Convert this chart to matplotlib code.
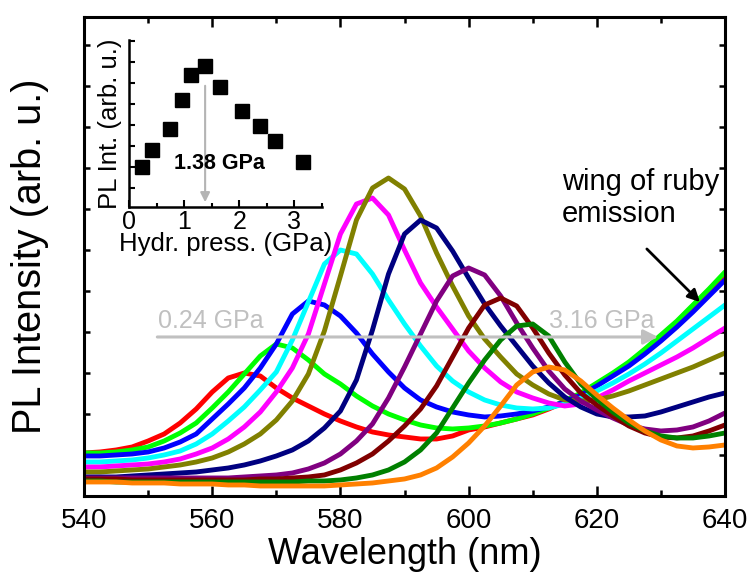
import numpy as np
import matplotlib
matplotlib.use('Agg')
import matplotlib.pyplot as plt
from matplotlib.ticker import MultipleLocator

plt.rcParams['font.family'] = ['Liberation Sans', 'DejaVu Sans']

# wavelength grid (nm), 2.5 nm step
wl = np.arange(540, 640.1, 2.5)

# PL spectra (arb. u.), low -> high pressure
red = [43, 44, 46, 49, 55, 62, 73, 87, 104, 118, 123, 120, 108, 98, 90, 82, 75, 69, 64, 61, 59,
       57, 57, 60, 66, 69, 73, 77, 81, 87, 94, 102, 112, 122, 133, 146, 160, 174, 190, 206, 222]
green = [43, 43, 44, 46, 49, 55, 63, 73, 88, 104, 122, 140, 152, 148, 136, 122, 112, 100, 90, 82, 76,
         71, 68, 67, 68, 70, 73, 77, 82, 88, 95, 103, 113, 123, 134, 147, 161, 175, 191, 207, 224]
blue = [40, 40, 41, 42, 44, 48, 54, 62, 77, 92, 108, 128, 152, 182, 195, 191, 180, 163, 142, 124, 108,
        96, 89, 84, 81, 79, 80, 82, 85, 89, 94, 101, 110, 120, 130, 142, 155, 169, 184, 200, 216]
cyan = [34, 34, 35, 36, 38, 41, 45, 52, 62, 75, 89, 106, 124, 156, 194, 232, 246, 242, 222, 196, 172,
        150, 130, 115, 104, 96, 91, 88, 87, 88, 92, 98, 105, 113, 122, 132, 143, 155, 167, 179, 191]
magenta = [29, 29, 30, 31, 32, 34, 37, 42, 48, 57, 69, 84, 104, 128, 162, 212, 262, 292, 298, 281, 246,
           213, 189, 167, 145, 128, 114, 104, 98, 93, 90, 92, 98, 106, 115, 123, 131, 139, 148, 158, 168]
olive = [24, 24, 25, 26, 27, 29, 31, 34, 38, 44, 52, 62, 76, 95, 122, 165, 220, 276, 308, 318, 307,
         280, 243, 210, 180, 157, 139, 122, 111, 102, 96, 95, 96, 100, 105, 111, 117, 123, 129, 136, 143]
navy = [19, 19, 19, 20, 21, 22, 23, 24, 26, 28, 31, 35, 40, 46, 55, 68, 85, 116, 166, 222, 262,
        276, 268, 245, 218, 192, 170, 150, 130, 113, 99, 89, 82, 79, 79, 80, 84, 89, 94, 99, 103]
purple = [18, 18, 18, 18, 18, 18, 18, 18, 18, 18, 19, 20, 21, 23, 27, 33, 42, 55, 72, 98, 129,
          162, 195, 220, 228, 221, 200, 173, 148, 125, 107, 95, 86, 78, 71, 67, 65, 66, 69, 75, 83]
maroon = [17, 17, 17, 16, 16, 16, 16, 16, 16, 16, 16, 17, 17, 18, 19, 21, 26, 33, 42, 55, 70,
          87, 110, 139, 168, 191, 198, 190, 168, 143, 121, 103, 91, 80, 70, 63, 59, 58, 60, 65, 71]
dkgreen = [15, 15, 14, 14, 14, 14, 14, 14, 14, 14, 14, 14, 14, 14, 15, 15, 16, 18, 21, 26, 34,
           46, 63, 88, 113, 136, 156, 170, 172, 160, 134, 112, 97, 84, 73, 65, 60, 58, 58, 60, 63]
orange = [14, 14, 14, 13, 13, 13, 12, 12, 12, 11, 11, 10, 10, 10, 10, 10, 11, 12, 13, 15, 17,
          21, 28, 39, 53, 70, 90, 111, 124, 129, 126, 115, 101, 88, 76, 65, 56, 50, 48, 49, 51]

spectra = [red, green, blue, cyan, magenta, olive, navy, purple, maroon, dkgreen, orange]
colors = ['#ff0000', '#00ff00', '#0000ff', '#00ffff', '#ff00ff', '#808000',
          '#000080', '#800080', '#800000', '#008000', '#ff8000']

# inset: integrated PL vs hydrostatic pressure
pressure = [0.24, 0.42, 0.75, 0.96, 1.13, 1.38, 1.65, 2.05, 2.37, 2.64, 3.16]
pl_int = [4.0, 5.7, 7.8, 10.7, 13.2, 14.1, 12.0, 9.6, 8.1, 6.6, 4.5]

fig = plt.figure(figsize=(7.51, 5.79), dpi=100)
ax = fig.add_axes([0.1119, 0.1434, 0.8535, 0.8272])

for s, c in zip(spectra, colors):
    ax.plot(wl, s, color=c, lw=3.5, solid_capstyle='round', solid_joinstyle='round')

ax.set_xlim(540, 640)
ax.set_ylim(0, 479)
ax.xaxis.set_major_locator(MultipleLocator(20))
ax.xaxis.set_minor_locator(MultipleLocator(10))
ax.set_yticks(np.arange(41, 479, 41))
ax.set_yticklabels([])
ax.tick_params(which='both', direction='in', top=True, right=True, width=1.8, labelsize=20, pad=9)
ax.tick_params(which='major', length=7)
ax.tick_params(which='minor', length=4)
ax.tick_params(axis='y', length=4.5)
for sp in ax.spines.values():
    sp.set_linewidth(2.2)
ax.set_xlabel('Wavelength (nm)', fontsize=26, labelpad=2)
ax.set_ylabel('PL Intensity (arb. u.)', fontsize=28.5, labelpad=16)

# pressure arrow
ax.annotate('', xy=(630, 159), xytext=(551, 159),
            arrowprops=dict(arrowstyle='-|>', color='#c0c0c0', lw=2.2, mutation_scale=22))
ax.text(551.5, 163, '0.24 GPa', color='#c0c0c0', fontsize=18, ha='left', va='bottom')
ax.text(629, 163, '3.16 GPa', color='#c0c0c0', fontsize=18, ha='right', va='bottom')

# ruby wing
ax.text(614.5, 328, 'wing of ruby\nemission', fontsize=21, ha='left', va='top', linespacing=1.2)
ax.annotate('', xy=(636.4, 192), xytext=(627.5, 249),
            arrowprops=dict(arrowstyle='-|>', color='black', lw=2, mutation_scale=18))

# inset
ins = fig.add_axes([0.1718, 0.6425, 0.257, 0.2884])
ins.patch.set_alpha(0)
ins.plot(pressure, pl_int, 's', color='black', ms=10.5)
ins.set_xlim(0, 3.5)
ins.set_ylim(0, 16.7)
ins.xaxis.set_major_locator(MultipleLocator(1))
ins.xaxis.set_minor_locator(MultipleLocator(0.5))
ins.set_yticks(np.arange(1.9, 16.7, 2.1))
ins.set_yticklabels([])
ins.spines['top'].set_visible(False)
ins.spines['right'].set_visible(False)
for sp in ['left', 'bottom']:
    ins.spines[sp].set_linewidth(1.8)
ins.tick_params(which='both', direction='in', width=1.5, labelsize=18, pad=2)
ins.tick_params(which='major', length=5)
ins.tick_params(which='minor', length=3)
ins.tick_params(axis='y', length=4)
ins.set_xlabel('Hydr. press. (GPa)', fontsize=18.5, labelpad=-1)
ins.set_ylabel('PL Int. (arb. u.)', fontsize=18.5, labelpad=3)
ins.annotate('', xy=(1.38, 0.2), xytext=(1.38, 12.4),
             arrowprops=dict(arrowstyle='-|>', color='#b4b4b4', lw=1.5, mutation_scale=14))
ins.text(1.64, 4.3, '1.38 GPa', fontsize=15.5, fontweight='bold', ha='center', va='center')

fig.savefig('out.png', dpi=100)
